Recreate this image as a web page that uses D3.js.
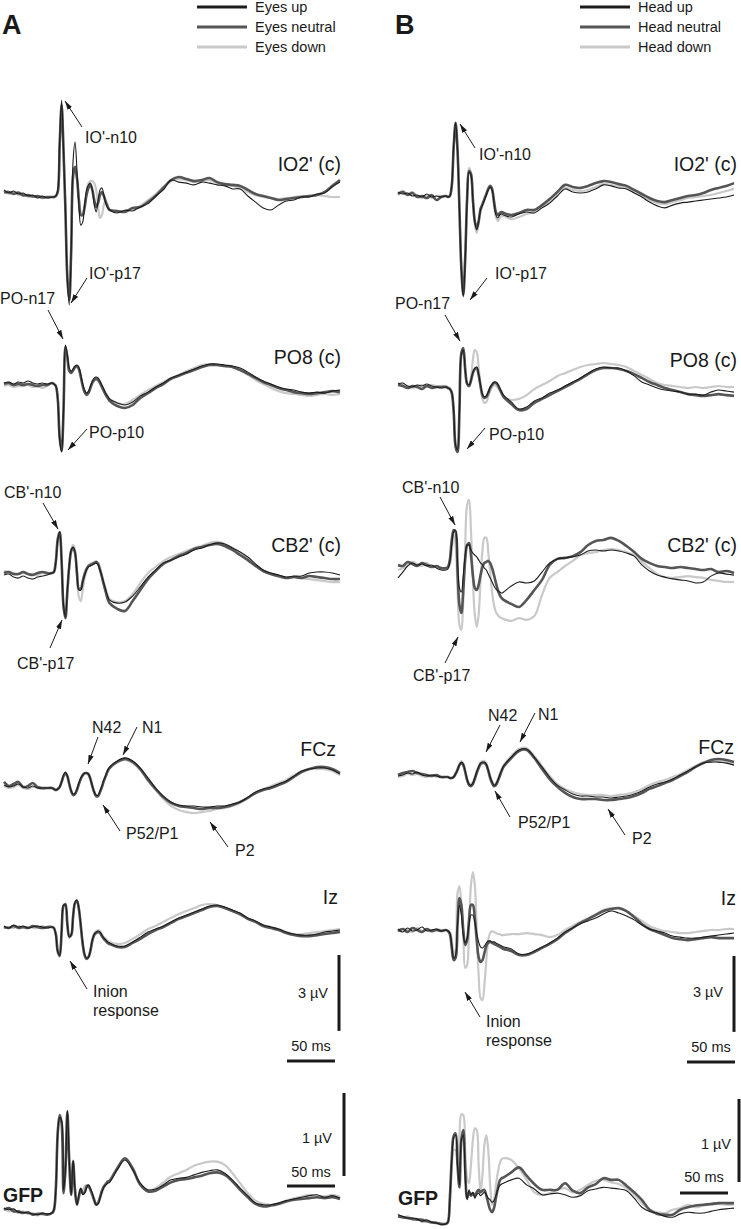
<!DOCTYPE html>
<html>
<head>
<meta charset="utf-8">
<script src="https://cdn.jsdelivr.net/npm/d3@7"></script>
<style>
  body { margin: 0; background: #fff; }
  text { font-family: "Liberation Sans", Arial, sans-serif; fill: #1a1a1a; }
</style>
</head>
<body>
<svg id="fig" width="741" height="1229"></svg>
<script>
// sample times (ms): coarse before stimulus, 2 ms during the early waves, 8 ms afterwards
var preTimes = [-50, -45, -40, -35, -30, -25, -20, -15, -10, -5];
var earlyTimes = [0, 2, 4, 6, 8, 10, 12, 14, 16, 18, 20, 22, 24, 26, 28, 30, 32, 34, 36, 38, 40, 42, 44, 46, 48, 50, 52, 54, 56, 58];
var lateTimes = [60, 68, 76, 84, 92, 100, 108, 116, 124, 132, 140, 148, 156, 164, 172, 180, 188, 196, 204, 212, 220, 228, 236, 244, 252, 260, 268, 276, 284, 292, 300];
var times = preTimes.concat(earlyTimes, lateTimes);

var conditionsA = ["Eyes up", "Eyes neutral", "Eyes down"];
var conditionsB = ["Head up", "Head neutral", "Head down"];
var channels = ["IO2' (c)", "PO8 (c)", "CB2' (c)", "FCz", "Iz", "GFP"];

// ---- Panel A (eye position), µV, negative up ----
var aIO2Up = [-0.2,-0.08,-0.16,-0.04,-0.08,0.04,0,0.12,0.04,0.12,
  0.08,0.08,0.04,-0.2,-2.17,-3.75,-1.78,0.6,3.36,4.35,2.17,-1.38,-2.09,-0.99,0.4,1.19,1.07,0.4,-0.2,-0.4,-0.47,-0.2,0.4,0.67,0.2,-0.2,-0.28,0,0.32,0.51,
  0.59,0.71,0.6,0.63,0.47,0.34,0.04,-0.2,-0.59,-0.51,-0.47,-0.4,-0.51,-0.47,-0.4,-0.36,-0.24,-0.24,0.04,0.28,0.51,0.59,0.4,0.24,0.2,0.08,0.08,-0.04,-0.08,-0.32,-0.51];
var aIO2Neutral = [-0.1,-0.12,-0.04,-0.1,0.02,0,0.06,0.04,0.1,0.08,
  0.08,0.08,0.04,-0.12,-1.98,-3.56,-1.78,0.6,3.28,4.15,2.17,-0.79,-1.11,-0.67,0.2,0.79,0.79,0.47,0,-0.28,-0.4,-0.2,0.2,0.47,0.32,0,-0.12,0.04,0.28,0.47,
  0.59,0.63,0.67,0.51,0.47,0.28,0.04,-0.28,-0.59,-0.71,-0.63,-0.55,-0.59,-0.67,-0.51,-0.43,-0.4,-0.36,-0.2,-0.04,0.04,0.12,0.2,0.16,0.12,0.08,0.04,0,-0.12,-0.36,-0.59];
var aIO2Down = [-0.16,-0.04,-0.12,0,-0.04,0.08,0.04,0.08,0.12,0.1,
  0.08,0.08,0.04,-0.12,-1.98,-3.56,-1.7,0.6,3.28,4.15,2.25,-0.59,-0.99,-0.67,0.12,0.67,0.75,0.4,-0.12,-0.47,-0.55,-0.55,-0.47,-0.2,0.4,0.91,0.79,0.4,0.2,0.4,
  0.59,0.67,0.63,0.55,0.43,0.2,-0.04,-0.32,-0.55,-0.63,-0.59,-0.51,-0.55,-0.59,-0.47,-0.4,-0.36,-0.28,-0.12,0,0.08,0.12,0.16,0.12,0.08,0.04,0.04,0,0.04,0.08,0.08];

var aPO8Up = [0,-0.04,0.04,-0.04,0,-0.08,0,0.04,0,0.04,
  0,0.04,0.12,0.67,2.25,2.73,1.07,-1.5,-1.11,-0.59,-0.47,-0.55,-0.67,-0.71,-0.63,-0.32,0.04,0.28,0.4,0.32,0.12,-0.08,-0.2,-0.24,-0.2,-0.08,0.08,0.24,0.4,0.51,
  0.63,0.79,0.87,0.75,0.51,0.36,0.16,0,-0.2,-0.32,-0.43,-0.55,-0.67,-0.75,-0.75,-0.71,-0.67,-0.59,-0.43,-0.24,-0.08,0.04,0.16,0.24,0.28,0.36,0.4,0.36,0.4,0.32,0.28];
var aPO8Neutral = [0.04,0,0.08,0.04,0.08,0.04,0.08,0.12,0.08,0.08,
  0,0.04,0.12,0.63,2.17,2.69,1.1,-1.42,-1.03,-0.47,-0.4,-0.51,-0.63,-0.67,-0.55,-0.24,0.12,0.36,0.47,0.4,0.2,0,-0.12,-0.16,-0.12,0,0.16,0.32,0.47,0.59,
  0.71,0.91,0.99,0.87,0.59,0.4,0.2,0.04,-0.16,-0.28,-0.4,-0.51,-0.63,-0.71,-0.71,-0.67,-0.63,-0.51,-0.36,-0.2,-0.04,0.08,0.2,0.28,0.36,0.4,0.43,0.4,0.36,0.32,0.36];
var aPO8Down = [0.12,0.08,0.16,0.12,0.12,0.08,0.16,0.12,0.2,0.12,
  0,0.04,0.12,0.6,2.1,2.65,1.15,-1.3,-1.0,-0.55,-0.43,-0.47,-0.59,-0.63,-0.55,-0.28,0.08,0.32,0.43,0.36,0.16,-0.04,-0.16,-0.2,-0.16,-0.04,0.12,0.28,0.43,0.55,
  0.63,0.79,0.83,0.67,0.47,0.28,0.12,-0.04,-0.2,-0.32,-0.47,-0.59,-0.71,-0.75,-0.71,-0.67,-0.63,-0.51,-0.32,-0.12,0.04,0.2,0.32,0.4,0.43,0.47,0.51,0.47,0.43,0.47,0.43];

var aCB2Up = [0.08,0.04,0.16,0.2,0.12,0.2,0.24,0.16,0.12,0.08,
  0,-0.04,-0.43,-1.3,-1.62,-0.51,1.26,1.74,0.67,-0.32,-0.91,-1.03,-0.83,-0.04,0.67,0.67,0.36,0.08,-0.12,-0.24,-0.28,-0.32,-0.36,-0.4,-0.32,-0.12,0.12,0.4,0.67,0.91,
  1.07,1.19,1.15,0.91,0.55,0.16,-0.12,-0.4,-0.51,-0.63,-0.75,-0.91,-0.99,-1.11,-1.19,-1.15,-0.99,-0.83,-0.63,-0.36,-0.12,0,0.08,0.16,0.12,0.12,0,-0.04,-0.04,0,0.08];
var aCB2Neutral = [0,-0.04,0.04,0.04,-0.04,0.04,0.08,0,-0.04,0,
  0,-0.04,-0.47,-1.34,-1.62,-0.47,1.34,1.78,0.71,-0.28,-0.87,-1.0,-0.79,0,0.63,0.63,0.32,0.04,-0.16,-0.28,-0.32,-0.36,-0.4,-0.43,-0.36,-0.12,0.16,0.47,0.75,1.03,
  1.19,1.42,1.5,1.11,0.67,0.24,-0.08,-0.36,-0.51,-0.67,-0.79,-0.95,-1.03,-1.11,-1.15,-1.07,-0.91,-0.71,-0.51,-0.28,-0.08,0.04,0.12,0.2,0.16,0.2,0.12,0.16,0.2,0.24,0.24];
var aCB2Down = [-0.08,-0.04,0,0.04,0,0.04,0.04,0.08,0,0.04,
  0,-0.04,-0.4,-1.26,-1.58,-0.55,1.3,1.74,0.79,-0.24,-0.91,-1.11,-0.91,0.12,0.95,1.11,0.67,0.2,-0.08,-0.28,-0.36,-0.4,-0.43,-0.47,-0.4,-0.2,0.08,0.36,0.63,0.87,
  1.03,1.15,1.11,0.83,0.4,0,-0.24,-0.47,-0.63,-0.75,-0.87,-0.99,-1.07,-1.19,-1.23,-1.15,-0.99,-0.79,-0.55,-0.28,-0.08,0.04,0.16,0.2,0.16,0.2,0.24,0.28,0.32,0.36,0.36];

var aFCzUp = [-0.08,0,-0.04,-0.12,0,0.04,-0.04,0.04,0.04,0.04,
  0.04,0.08,0.12,0.08,0,-0.2,-0.47,-0.59,-0.43,-0.12,0.16,0.28,0.24,0.08,-0.16,-0.36,-0.47,-0.55,-0.55,-0.51,-0.32,-0.04,0.2,0.32,0.32,0.16,-0.04,-0.28,-0.47,-0.67,
  -0.79,-1.03,-1.15,-1.03,-0.75,-0.36,0.04,0.36,0.59,0.71,0.75,0.75,0.79,0.79,0.75,0.75,0.67,0.59,0.4,0.2,0.08,0,-0.12,-0.24,-0.43,-0.63,-0.71,-0.75,-0.75,-0.67,-0.51];
var aFCzNeutral = [-0.2,-0.04,-0.12,-0.2,0,-0.04,-0.16,0,0.04,0.04,
  0.04,0.08,0.12,0.08,0,-0.2,-0.43,-0.55,-0.43,-0.12,0.16,0.32,0.28,0.12,-0.12,-0.32,-0.47,-0.55,-0.55,-0.51,-0.32,-0.04,0.2,0.36,0.36,0.2,0,-0.24,-0.43,-0.63,
  -0.75,-0.99,-1.11,-0.99,-0.71,-0.28,0.08,0.4,0.63,0.75,0.79,0.83,0.87,0.83,0.83,0.79,0.71,0.59,0.43,0.24,0.12,0.04,-0.08,-0.2,-0.4,-0.59,-0.71,-0.79,-0.79,-0.71,-0.55];
var aFCzDown = [-0.04,0.04,0,-0.08,0.04,0.08,0,0.04,0.08,0.04,
  0.04,0.08,0.12,0.08,0,-0.16,-0.43,-0.55,-0.4,-0.08,0.2,0.32,0.28,0.12,-0.12,-0.32,-0.43,-0.51,-0.51,-0.47,-0.28,0,0.24,0.36,0.36,0.2,0,-0.24,-0.43,-0.63,
  -0.75,-0.99,-1.07,-0.95,-0.67,-0.24,0.12,0.47,0.75,0.91,0.99,1.03,0.99,0.95,0.87,0.83,0.75,0.63,0.43,0.24,0.08,-0.04,-0.16,-0.28,-0.47,-0.63,-0.71,-0.71,-0.71,-0.63,-0.47];

var aIzUp = [-0.04,0.04,-0.08,0,-0.04,0.04,0,-0.04,0,0.04,
  0,0.04,0.32,0.99,1.11,0.12,-0.87,-0.87,-0.08,0.4,0.32,-0.47,-0.99,-1.07,-0.75,-0.08,0.63,1.07,1.22,1.19,0.91,0.51,0.28,0.2,0.16,0.2,0.32,0.43,0.51,0.59,
  0.63,0.75,0.75,0.59,0.4,0.2,0.08,-0.04,-0.2,-0.36,-0.47,-0.59,-0.71,-0.83,-0.87,-0.79,-0.67,-0.55,-0.36,-0.24,-0.08,0,0.08,0.2,0.28,0.32,0.32,0.28,0.2,0.16,0.12];
var aIzNeutral = [0,0.04,-0.04,0.04,0,0.04,-0.04,0,0.04,0,
  0,0.04,0.28,0.95,1.15,0.2,-0.83,-0.91,-0.12,0.36,0.32,-0.43,-0.95,-1.03,-0.71,-0.04,0.67,1.11,1.26,1.19,0.95,0.55,0.32,0.24,0.2,0.24,0.36,0.47,0.55,0.63,
  0.67,0.79,0.79,0.63,0.47,0.28,0.12,0,-0.16,-0.32,-0.43,-0.55,-0.67,-0.79,-0.83,-0.75,-0.63,-0.51,-0.32,-0.2,-0.04,0.04,0.12,0.24,0.32,0.36,0.36,0.32,0.28,0.24,0.2];
var aIzDown = [0.04,0,0.04,-0.04,0.04,0,0.04,0.04,-0.04,0.04,
  0,0.04,0.32,1.03,1.11,0.08,-0.87,-0.83,-0.04,0.43,0.36,-0.4,-0.95,-1.03,-0.71,0,0.71,1.15,1.26,1.19,0.91,0.47,0.24,0.16,0.12,0.16,0.28,0.4,0.47,0.55,
  0.59,0.67,0.63,0.47,0.28,0.08,-0.04,-0.2,-0.36,-0.51,-0.63,-0.75,-0.87,-0.91,-0.87,-0.75,-0.63,-0.47,-0.32,-0.2,-0.08,0,0.08,0.2,0.28,0.28,0.24,0.2,0.16,0.12,0.08];

// GFP in µV (positive up)
var aGFPUp = [0.24,0.22,0.23,0.19,0.19,0.18,0.17,0.16,0.18,0.17,
  0.18,0.22,0.46,1.14,1.33,1.3,0.46,0.7,1.42,0.82,0.4,0.82,0.46,0.28,0.4,0.48,0.4,0.42,0.48,0.52,0.48,0.42,0.34,0.28,0.29,0.36,0.43,0.49,0.52,0.54,
  0.55,0.7,0.82,0.7,0.54,0.46,0.47,0.52,0.58,0.6,0.61,0.64,0.67,0.69,0.7,0.66,0.58,0.48,0.39,0.3,0.28,0.28,0.3,0.33,0.35,0.37,0.39,0.4,0.37,0.39,0.36];
var aGFPNeutral = [0.22,0.24,0.2,0.2,0.18,0.19,0.16,0.17,0.17,0.16,
  0.18,0.22,0.48,1.16,1.36,1.26,0.42,0.72,1.4,0.78,0.4,0.8,0.44,0.28,0.38,0.47,0.42,0.43,0.5,0.51,0.46,0.4,0.33,0.28,0.3,0.37,0.45,0.5,0.53,0.56,
  0.57,0.72,0.84,0.72,0.52,0.44,0.45,0.5,0.55,0.58,0.59,0.61,0.63,0.66,0.67,0.64,0.56,0.46,0.37,0.29,0.26,0.27,0.29,0.32,0.34,0.35,0.36,0.37,0.36,0.37,0.35];
var aGFPDown = [0.23,0.2,0.22,0.18,0.2,0.17,0.18,0.15,0.18,0.16,
  0.18,0.2,0.42,1.1,1.3,1.28,0.5,0.66,1.36,0.86,0.44,0.76,0.5,0.32,0.36,0.44,0.46,0.5,0.52,0.5,0.45,0.4,0.36,0.3,0.3,0.35,0.42,0.48,0.52,0.55,
  0.57,0.72,0.84,0.7,0.52,0.45,0.48,0.55,0.62,0.66,0.7,0.75,0.78,0.8,0.8,0.76,0.66,0.54,0.42,0.33,0.29,0.28,0.3,0.33,0.36,0.38,0.4,0.39,0.38,0.4,0.38];

// ---- Panel B (head position) ----
var bIO2Up = [-0.12,-0.04,-0.08,0.04,0,0.08,-0.04,0.08,0.04,0.08,
  0.04,0.08,0.04,-0.4,-1.98,-2.85,-1.78,0.59,2.96,4.03,2.57,0.2,-0.91,-0.79,0.2,1.07,1.38,1.07,0.59,0.4,0.2,0,-0.2,-0.32,-0.2,0.32,0.79,0.91,0.79,0.75,
  0.79,0.87,0.75,0.67,0.71,0.51,0.32,0.04,-0.24,-0.12,-0.08,-0.12,-0.24,-0.4,-0.36,-0.28,-0.24,-0.08,0.08,0.28,0.43,0.51,0.4,0.32,0.28,0.24,0.2,0.16,0.12,0.08,0];
var bIO2Neutral = [-0.04,-0.12,0,-0.08,0.08,0.04,0.12,0,0.2,0.08,
  0.04,0.08,0.04,-0.36,-1.9,-2.85,-1.78,0.55,2.9,3.95,2.5,0.12,-0.95,-0.83,0.16,1.03,1.3,1.03,0.55,0.36,0.16,-0.04,-0.24,-0.36,-0.24,0.24,0.67,0.79,0.71,0.67,
  0.71,0.79,0.71,0.59,0.59,0.4,0.16,-0.12,-0.4,-0.32,-0.28,-0.36,-0.47,-0.55,-0.51,-0.43,-0.36,-0.2,-0.04,0.12,0.24,0.28,0.2,0.12,0.04,0,-0.08,-0.2,-0.28,-0.36,-0.47];
var bIO2Down = [0,-0.16,-0.04,-0.12,0.04,0.12,0,0.12,0.04,0.04,
  0.04,0.08,0.04,-0.32,-1.9,-2.8,-1.7,0.59,2.9,3.95,2.6,0.28,-1.07,-0.87,0.24,1.15,1.5,1.15,0.67,0.43,0.2,0,-0.2,-0.32,-0.16,0.4,0.87,1.03,0.91,0.83,
  0.83,0.95,0.87,0.75,0.67,0.47,0.28,0,-0.28,-0.2,-0.16,-0.2,-0.32,-0.43,-0.4,-0.32,-0.28,-0.12,0.04,0.2,0.32,0.36,0.28,0.2,0.12,0.08,0.04,0,-0.08,-0.16,-0.24];

var bPO8Up = [-0.04,-0.08,0.04,0.08,0,0.04,-0.04,0.04,0.08,0.12,
  0.08,0.12,0.16,0.28,0.99,2.37,2.57,0.99,-1.19,-1.38,-0.59,-0.08,0,-0.2,-0.51,-0.67,-0.71,-0.43,0,0.36,0.47,0.43,0.28,0.08,-0.04,-0.12,-0.12,-0.04,0.12,0.28,
  0.4,0.67,0.95,0.87,0.63,0.51,0.32,0.2,0.04,-0.12,-0.28,-0.47,-0.63,-0.71,-0.67,-0.67,-0.55,-0.36,-0.12,0,0.12,0.2,0.24,0.28,0.36,0.36,0.4,0.28,0.2,0.24,0.28];
var bPO8Neutral = [0,0.04,0.12,0.04,0.08,0.16,0.04,0.12,0.08,0.08,
  0.08,0.12,0.16,0.32,1.07,2.45,2.65,1.03,-1.26,-1.46,-0.63,-0.04,0.04,-0.16,-0.47,-0.63,-0.67,-0.4,0.04,0.4,0.51,0.47,0.32,0.12,0,-0.08,-0.08,0,0.16,0.32,
  0.47,0.75,0.99,0.95,0.71,0.55,0.4,0.24,0.08,-0.08,-0.24,-0.43,-0.59,-0.67,-0.67,-0.63,-0.55,-0.43,-0.28,-0.12,0,0.12,0.2,0.28,0.36,0.4,0.43,0.4,0.36,0.4,0.43];
var bPO8Down = [-0.08,0,0.04,0.12,0.04,0,0.08,0,0.04,0.04,
  0.04,0.08,0.12,0.24,0.91,2.25,2.45,0.95,-1.15,-1.34,-0.55,-0.04,0.04,-0.28,-0.99,-1.38,-1.3,-0.71,0.08,0.55,0.71,0.67,0.47,0.24,0.08,0,0.04,0.12,0.24,0.36,
  0.47,0.59,0.55,0.4,0.16,0,-0.16,-0.35,-0.47,-0.59,-0.71,-0.79,-0.83,-0.87,-0.83,-0.79,-0.71,-0.55,-0.4,-0.24,-0.08,0,0.04,0.08,0.12,0.08,0.12,0.08,0.04,0.08,0.08];

var bCB2Up = [0.43,0.2,-0.04,-0.16,-0.08,-0.12,-0.04,-0.08,0.04,0.12,
  0.12,0.08,-0.2,-0.87,-1.38,-1.46,-0.28,0.83,0.99,0.32,-0.47,-0.87,-0.87,-0.67,-0.55,-0.47,-0.4,-0.28,-0.16,-0.08,0.04,0.12,0.28,0.43,0.59,0.75,0.87,0.95,0.99,1.03,
  0.99,0.75,0.59,0.63,0.55,0.2,-0.16,-0.32,-0.36,-0.4,-0.47,-0.63,-0.67,-0.63,-0.67,-0.63,-0.55,-0.43,-0.08,0.16,0.32,0.4,0.47,0.51,0.55,0.63,0.59,0.36,0.24,0.28,0.32];
var bCB2Neutral = [-0.08,-0.04,-0.2,-0.12,-0.04,-0.16,-0.08,0,-0.04,0.04,
  0.04,0,-0.28,-1.07,-1.46,-1.38,0.12,1.5,1.82,0.91,-0.28,-0.87,-0.95,-0.47,0.32,0.83,0.91,0.71,0.32,0,-0.16,-0.2,-0.24,-0.16,0.04,0.32,0.63,0.91,1.11,1.23,
  1.3,1.46,1.58,1.3,0.91,0.51,-0.08,-0.32,-0.36,-0.43,-0.59,-0.87,-1.03,-1.07,-1.15,-1.03,-0.83,-0.59,-0.32,-0.16,-0.04,0,0.04,0,0.04,0.08,0.12,0.08,0.2,0.16,0.24];
var bCB2Down = [0.12,0.04,-0.08,-0.2,-0.12,-0.04,-0.16,0,-0.04,0.08,
  0.08,0.04,-0.08,-0.67,-1.26,-0.87,0.91,2.29,2.49,1.3,-0.87,-2.45,-2.65,-1.46,0.51,1.89,2.37,1.89,0.51,-0.67,-1.15,-1.15,-0.59,0.2,0.99,1.5,1.78,1.9,1.98,2.02,
  2.06,2.13,2.02,2.09,1.94,1.11,0.43,0.2,-0.04,-0.24,-0.47,-0.55,-0.59,-0.67,-0.71,-0.67,-0.59,-0.47,-0.2,0.04,0.28,0.4,0.43,0.4,0.36,0.4,0.43,0.51,0.55,0.59,0.59];

var bFCzUp = [0,-0.04,-0.12,-0.08,-0.16,-0.04,0,-0.04,0,0.04,
  0.04,0.04,0.08,0.08,0.04,-0.08,-0.24,-0.43,-0.55,-0.47,-0.2,0.12,0.32,0.36,0.28,0.08,-0.16,-0.36,-0.51,-0.55,-0.55,-0.47,-0.24,0.04,0.24,0.36,0.32,0.16,-0.04,-0.24,
  -0.4,-0.75,-1.03,-1.07,-0.75,-0.36,0.04,0.36,0.55,0.71,0.79,0.79,0.83,0.83,0.87,0.83,0.79,0.71,0.59,0.43,0.32,0.24,0.12,-0.04,-0.2,-0.36,-0.51,-0.55,-0.55,-0.51,-0.43];
var bFCzNeutral = [-0.04,-0.12,-0.16,-0.2,-0.12,-0.08,-0.04,0,-0.04,0.04,
  0.04,0.04,0.08,0.08,0.04,-0.08,-0.24,-0.43,-0.51,-0.43,-0.16,0.16,0.36,0.4,0.32,0.12,-0.12,-0.32,-0.47,-0.51,-0.51,-0.43,-0.2,0.08,0.28,0.4,0.36,0.2,0,-0.2,
  -0.36,-0.71,-0.99,-1.03,-0.71,-0.28,0.12,0.43,0.67,0.83,0.91,0.91,0.91,0.95,0.95,0.91,0.87,0.79,0.67,0.51,0.4,0.28,0.16,0,-0.16,-0.36,-0.51,-0.63,-0.67,-0.63,-0.55];
var bFCzDown = [0.04,0,-0.08,-0.04,-0.08,0,0.04,-0.04,0.04,0.04,
  0.04,0.04,0.08,0.08,0.04,-0.12,-0.28,-0.47,-0.59,-0.51,-0.2,0.12,0.28,0.32,0.24,0.04,-0.2,-0.4,-0.55,-0.59,-0.59,-0.51,-0.28,0,0.2,0.32,0.28,0.12,-0.08,-0.28,
  -0.43,-0.79,-1.07,-1.11,-0.79,-0.4,0,0.32,0.51,0.63,0.71,0.75,0.75,0.75,0.79,0.75,0.71,0.63,0.51,0.36,0.24,0.16,0.04,-0.08,-0.24,-0.4,-0.55,-0.59,-0.59,-0.55,-0.47];

var bIzUp = [-0.04,0.08,-0.08,0.04,0,-0.12,0.04,0,-0.04,0.04,
  0,0.04,0.12,0.59,1.11,0.99,-0.2,-0.99,-0.59,0.2,0.51,0.32,-0.2,-0.59,-0.59,-0.32,0.12,0.47,0.67,0.71,0.63,0.51,0.43,0.43,0.47,0.47,0.51,0.55,0.59,0.63,
  0.67,0.75,0.95,0.95,0.83,0.67,0.51,0.32,0.08,-0.08,-0.24,-0.36,-0.47,-0.63,-0.75,-0.67,-0.55,-0.4,-0.2,-0.04,0.04,0.12,0.24,0.28,0.32,0.32,0.28,0.24,0.2,0.16,0.12];
var bIzNeutral = [0.04,-0.04,0.08,-0.08,0,0.08,-0.04,0.04,0,0.04,
  0,0.04,0.16,0.71,1.19,1.11,-0.2,-1.26,-0.99,0,0.59,0.4,-0.4,-0.99,-0.99,-0.47,0.4,1.07,1.26,1.19,0.91,0.63,0.51,0.47,0.51,0.55,0.59,0.63,0.67,0.71,
  0.75,0.83,0.99,0.99,0.87,0.71,0.55,0.36,0.12,-0.08,-0.28,-0.43,-0.59,-0.75,-0.83,-0.87,-0.75,-0.51,-0.24,-0.04,0.08,0.2,0.32,0.36,0.4,0.36,0.32,0.28,0.32,0.32,0.32];
var bIzDown = [0.08,-0.04,0,0.08,-0.08,0.04,0,0.08,-0.04,0,
  0,0.04,0.08,0.4,0.99,0.79,-1.46,-1.74,-0.99,0.2,1.5,1.38,0,-1.78,-2.29,-1.78,0,1.78,2.69,2.77,2.17,1.19,0.4,0.12,0.04,0.08,0.12,0.16,0.16,0.2,
  0.2,0.16,0.16,0.12,0.16,0.2,0.28,0.2,0,-0.16,-0.32,-0.47,-0.63,-0.79,-0.87,-0.83,-0.75,-0.55,-0.36,-0.16,-0.04,0.04,0.08,0.12,0.12,0.08,0.04,0,0,-0.04,-0.04];

var bGFPUp = [0.16,0.14,0.12,0.12,0.11,0.08,0.1,0.07,0.06,0.04,
  0.05,0.07,0.34,0.82,1.08,1.12,0.76,0.52,1.06,1.12,0.58,0.34,0.46,0.4,0.43,0.36,0.4,0.42,0.39,0.41,0.43,0.4,0.36,0.34,0.31,0.33,0.39,0.46,0.51,0.53,
  0.54,0.58,0.6,0.52,0.47,0.4,0.41,0.42,0.4,0.37,0.39,0.45,0.47,0.49,0.48,0.47,0.45,0.36,0.25,0.2,0.18,0.14,0.13,0.17,0.19,0.18,0.18,0.2,0.22,0.23,0.24];
var bGFPNeutral = [0.14,0.13,0.12,0.11,0.1,0.1,0.08,0.07,0.06,0.05,
  0.05,0.07,0.36,0.84,1.11,1.14,0.76,0.49,1.06,1.18,0.7,0.36,0.43,0.39,0.42,0.39,0.43,0.46,0.43,0.45,0.46,0.39,0.3,0.22,0.19,0.24,0.36,0.48,0.57,0.6,
  0.61,0.67,0.73,0.63,0.53,0.46,0.46,0.46,0.54,0.45,0.42,0.49,0.53,0.6,0.58,0.58,0.51,0.43,0.34,0.22,0.17,0.16,0.16,0.22,0.25,0.27,0.28,0.29,0.3,0.3,0.3];
var bGFPDown = [0.17,0.12,0.14,0.1,0.11,0.07,0.08,0.06,0.07,0.04,
  0.05,0.07,0.28,0.7,0.94,0.94,0.76,1.12,1.37,1.36,0.94,0.6,0.54,0.76,1.06,1.2,1.18,0.76,0.43,0.64,1,1.12,0.94,0.52,0.28,0.34,0.52,0.67,0.78,0.83,
  0.84,0.82,0.72,0.58,0.43,0.4,0.42,0.46,0.48,0.43,0.46,0.52,0.57,0.58,0.55,0.53,0.48,0.4,0.3,0.22,0.19,0.18,0.22,0.24,0.28,0.25,0.27,0.28,0.29,0.28,0.28];

// ---- layout ----
var svg = d3.select("#fig");
var uvPx = 25.3;      // px per µV for the channel traces
var gfpPx = 83;       // px per µV for GFP
var gfpZero = 1228;

// line style per condition: up, neutral, down
var styles = [
  { color: "#1c1c1c", width: 1.1 },
  { color: "#555555", width: 2.6 },
  { color: "#c9c9c9", width: 2.2 }
];

var panels = [
  {
    letter: "A", letterX: 2, xRange: [4, 340], conds: conditionsA, legendX: 197,
    series: [[aIO2Up, aIO2Neutral, aIO2Down], [aPO8Up, aPO8Neutral, aPO8Down], [aCB2Up, aCB2Neutral, aCB2Down],
             [aFCzUp, aFCzNeutral, aFCzDown], [aIzUp, aIzNeutral, aIzDown], [aGFPUp, aGFPNeutral, aGFPDown]],
    bases: [195, 383, 573, 787, 927],
    labels: [[341, 164], [341, 357], [341, 545], [336, 749], [338, 897]],
    gfpLabel: [3, 1195],
    uvBar: { x: 339, y: 955 }, msBar: { x: 287, y: 1061, ty: 1046 },
    gfpBar: { x: 344, y: 1093 }, gfpMsBar: { x: 287, y: 1186, ty: 1172 },
    uvText: [328, 993], gfpUvText: [332, 1138],
    notes: [
      { t: ["IO'-n10"], x: 85, y: 137, a: [82, 127, 65, 101] },
      { t: ["IO'-p17"], x: 89, y: 273, a: [87, 278, 71, 303] },
      { t: ["PO-n17"], x: 0, y: 298, a: [48, 310, 63, 339] },
      { t: ["PO-p10"], x: 89, y: 432, a: [87, 429, 68, 450] },
      { t: ["CB'-n10"], x: 4, y: 492, a: [43, 503, 58, 529] },
      { t: ["CB'-p17"], x: 17, y: 663, a: [50, 648, 62, 620] },
      { t: ["N42"], x: 92, y: 727, a: [98, 737, 88, 764] },
      { t: ["N1"], x: 142, y: 727, a: [137, 727, 123, 755] },
      { t: ["P52/P1"], x: 126, y: 833, a: [120, 831, 103, 805] },
      { t: ["P2"], x: 235, y: 850, a: [228, 847, 210, 822] },
      { t: ["Inion", "response"], x: 93, y: 991, a: [87, 989, 70, 961] }
    ]
  },
  {
    letter: "B", letterX: 395, xRange: [398, 734], conds: conditionsB, legendX: 580,
    series: [[bIO2Up, bIO2Neutral, bIO2Down], [bPO8Up, bPO8Neutral, bPO8Down], [bCB2Up, bCB2Neutral, bCB2Down],
             [bFCzUp, bFCzNeutral, bFCzDown], [bIzUp, bIzNeutral, bIzDown], [bGFPUp, bGFPNeutral, bGFPDown]],
    bases: [195, 385, 567, 776, 930],
    labels: [[737, 164], [737, 360], [737, 545], [734, 747], [736, 898]],
    gfpLabel: [398, 1198],
    uvBar: { x: 734, y: 956 }, msBar: { x: 687, y: 1062, ty: 1047 },
    gfpBar: { x: 739, y: 1099 }, gfpMsBar: { x: 680, y: 1193, ty: 1177 },
    uvText: [723, 992], gfpUvText: [731, 1144],
    notes: [
      { t: ["IO'-n10"], x: 479, y: 154, a: [475, 148, 460, 124] },
      { t: ["IO'-p17"], x: 495, y: 273, a: [487, 278, 470, 300] },
      { t: ["PO-n17"], x: 395, y: 303, a: [445, 315, 460, 341] },
      { t: ["PO-p10"], x: 489, y: 434, a: [485, 428, 467, 449] },
      { t: ["CB'-n10"], x: 402, y: 487, a: [440, 497, 455, 525] },
      { t: ["CB'-p17"], x: 413, y: 675, a: [445, 663, 458, 637] },
      { t: ["N42"], x: 488, y: 715, a: [500, 725, 486, 752] },
      { t: ["N1"], x: 538, y: 714, a: [535, 713, 520, 742] },
      { t: ["P52/P1"], x: 518, y: 822, a: [510, 817, 495, 791] },
      { t: ["P2"], x: 632, y: 838, a: [625, 835, 608, 809] },
      { t: ["Inion", "response"], x: 486, y: 1021, a: [480, 1017, 465, 992] }
    ]
  }
];

// arrowhead
svg.append("defs").append("marker")
  .attr("id", "arrow")
  .attr("viewBox", "0 0 10 6")
  .attr("refX", 10).attr("refY", 3)
  .attr("markerWidth", 9).attr("markerHeight", 5.5)
  .attr("markerUnits", "userSpaceOnUse")
  .attr("orient", "auto")
  .append("path").attr("d", "M0,0 L10,3 L0,6 Z").attr("fill", "#1a1a1a");

panels.forEach(function (p) {
  var x = d3.scaleLinear().domain([-50, 300]).range(p.xRange);

  // panel letter
  svg.append("text").attr("x", p.letterX).attr("y", 25)
    .attr("dominant-baseline", "central")
    .style("font-size", "27px").style("font-weight", "bold")
    .text(p.letter);

  // legend
  p.conds.forEach(function (c, i) {
    var ly = 7 + i * 20;
    svg.append("line")
      .attr("x1", p.legendX).attr("x2", p.legendX + 50)
      .attr("y1", ly).attr("y2", ly)
      .attr("stroke", styles[i].color).attr("stroke-width", 3);
    svg.append("text").attr("x", p.legendX + 58).attr("y", ly)
      .attr("dominant-baseline", "central")
      .style("font-size", "14.5px").text(c);
  });

  // traces
  p.series.forEach(function (rowSeries, r) {
    var isGfp = r === 5;
    var y = isGfp
      ? d3.scaleLinear().domain([0, 1]).range([gfpZero, gfpZero - gfpPx])
      : d3.scaleLinear().domain([0, 1]).range([p.bases[r], p.bases[r] + uvPx]);
    var line = d3.line()
      .x(function (d, i) { return x(times[i]); })
      .y(function (d) { return y(d); })
      .curve(d3.curveCatmullRom.alpha(0.5));

    [2, 1, 0].forEach(function (k) {
      svg.append("path")
        .datum(rowSeries[k])
        .attr("d", line)
        .attr("fill", "none")
        .attr("stroke", styles[k].color)
        .attr("stroke-width", styles[k].width)
        .attr("stroke-linejoin", "round");
    });

    if (isGfp) {
      svg.append("text").attr("x", p.gfpLabel[0]).attr("y", p.gfpLabel[1])
        .attr("dominant-baseline", "central")
        .style("font-size", "19.5px").style("font-weight", "bold")
        .text(channels[r]);
      // 1 µV and 50 ms scale bars
      svg.append("line")
        .attr("x1", p.gfpBar.x).attr("x2", p.gfpBar.x)
        .attr("y1", p.gfpBar.y).attr("y2", p.gfpBar.y + (y(0) - y(1)))
        .attr("stroke", "#1a1a1a").attr("stroke-width", 3);
      svg.append("text").attr("x", p.gfpUvText[0]).attr("y", p.gfpUvText[1])
        .attr("text-anchor", "end").attr("dominant-baseline", "central")
        .style("font-size", "14.5px").text("1 \u00b5V");
      var w = x(50) - x(0);
      svg.append("line")
        .attr("x1", p.gfpMsBar.x).attr("x2", p.gfpMsBar.x + w)
        .attr("y1", p.gfpMsBar.y).attr("y2", p.gfpMsBar.y)
        .attr("stroke", "#1a1a1a").attr("stroke-width", 3);
      svg.append("text").attr("x", p.gfpMsBar.x + w / 2).attr("y", p.gfpMsBar.ty)
        .attr("text-anchor", "middle").attr("dominant-baseline", "central")
        .style("font-size", "14.5px").text("50 ms");
    } else {
      svg.append("text").attr("x", p.labels[r][0]).attr("y", p.labels[r][1])
        .attr("text-anchor", "end").attr("dominant-baseline", "central")
        .style("font-size", "19.5px")
        .text(channels[r]);
      if (r === 4) {
        // 3 µV and 50 ms scale bars, sized from the scales
        svg.append("line")
          .attr("x1", p.uvBar.x).attr("x2", p.uvBar.x)
          .attr("y1", p.uvBar.y).attr("y2", p.uvBar.y + (y(3) - y(0)))
          .attr("stroke", "#1a1a1a").attr("stroke-width", 3);
        svg.append("text").attr("x", p.uvText[0]).attr("y", p.uvText[1])
          .attr("text-anchor", "end").attr("dominant-baseline", "central")
          .style("font-size", "14.5px").text("3 \u00b5V");
        var w2 = x(50) - x(0);
        svg.append("line")
          .attr("x1", p.msBar.x).attr("x2", p.msBar.x + w2)
          .attr("y1", p.msBar.y).attr("y2", p.msBar.y)
          .attr("stroke", "#1a1a1a").attr("stroke-width", 3);
        svg.append("text").attr("x", p.msBar.x + w2 / 2).attr("y", p.msBar.ty)
          .attr("text-anchor", "middle").attr("dominant-baseline", "central")
          .style("font-size", "14.5px").text("50 ms");
      }
    }
  });

  // component annotations
  p.notes.forEach(function (n) {
    n.t.forEach(function (s, i) {
      svg.append("text").attr("x", n.x).attr("y", n.y + i * 19)
        .attr("dominant-baseline", "central")
        .style("font-size", "16px").text(s);
    });
    svg.append("line")
      .attr("x1", n.a[0]).attr("y1", n.a[1])
      .attr("x2", n.a[2]).attr("y2", n.a[3])
      .attr("stroke", "#1a1a1a").attr("stroke-width", 1)
      .attr("marker-end", "url(#arrow)");
  });
});
</script>
</body>
</html>
